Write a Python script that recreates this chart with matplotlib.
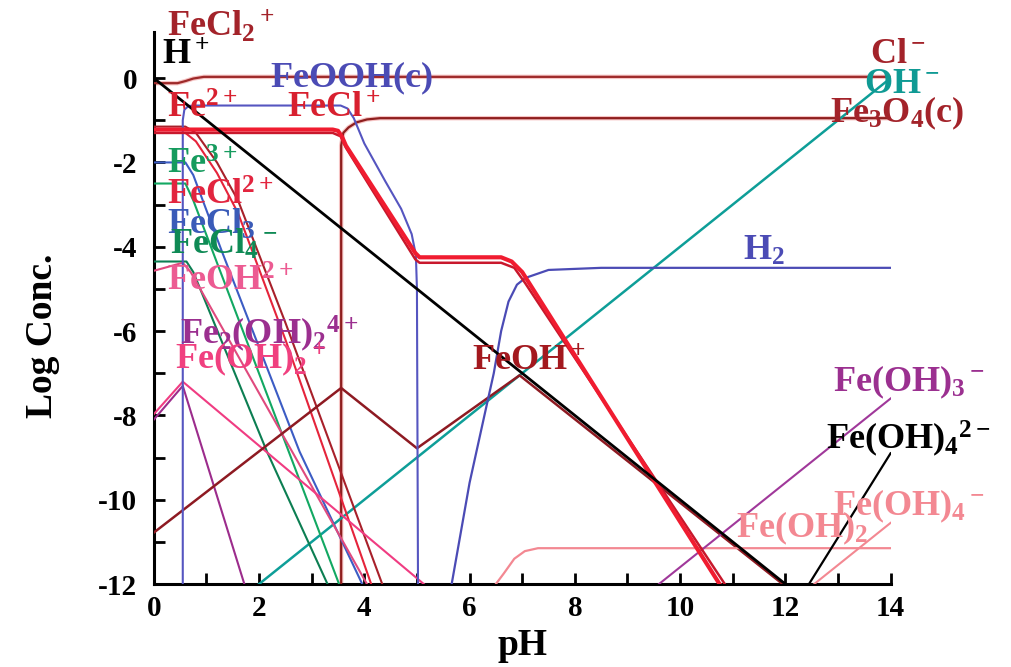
import matplotlib
matplotlib.use("Agg")
import matplotlib.pyplot as plt

plt.rcParams['font.family'] = ['Liberation Serif', 'DejaVu Serif']
plt.rcParams['font.weight'] = 'bold'
plt.rcParams['axes.unicode_minus'] = False
plt.rcParams['mathtext.fontset'] = 'custom'
plt.rcParams['mathtext.rm'] = 'Liberation Serif:bold'
plt.rcParams['mathtext.bf'] = 'Liberation Serif:bold'
plt.rcParams['mathtext.it'] = 'Liberation Serif:bold'
plt.rcParams['mathtext.default'] = 'bf'

# --- species curves (pH, log conc.) ---
h_ph = [0, 12]
h_log = [0, -12]

oh_ph = [2, 14]
oh_log = [-12, 0]

cl_ph = [0, 0.45, 0.6, 0.75, 0.95, 14]
cl_log = [-0.12, -0.12, -0.07, -0.01, 0.03, 0.03]

fe3o4_ph = [3.56, 3.56, 3.6, 3.7, 3.85, 4.05, 4.3, 14]
fe3o4_log = [-12, -1.6, -1.3, -1.17, -1.05, -0.98, -0.95, -0.95]

feooh_ph = [0.55, 0.55, 0.58, 0.66, 0.8, 3.55, 3.68, 3.8, 4.0, 4.4, 4.7, 4.9, 4.98, 5.0, 5.02]
feooh_log = [-12, -1.0, -0.75, -0.66, -0.65, -0.65, -0.72, -0.95, -1.55, -2.45, -3.1, -3.7, -4.2, -5.0, -12]

fe2_ph = [0, 3.4, 3.5, 3.58, 3.65, 4.97, 5.05, 6.6, 6.8, 7.0, 10.75]
fe2_log = [-1.22, -1.22, -1.25, -1.4, -1.6, -4.15, -4.25, -4.25, -4.35, -4.6, -12]

fecl_ph = [0, 3.4, 3.55, 3.65, 4.97, 5.05, 6.6, 6.85, 7.05, 10.85]
fecl_log = [-1.3, -1.3, -1.38, -1.65, -4.3, -4.38, -4.38, -4.5, -4.85, -12]

feoh_ph = [0, 3.56, 5.0, 6.95, 12.0]
feoh_log = [-10.78, -7.35, -8.78, -7.05, -12.05]

fecl2_ph = [0, 0.6, 0.8, 1.2, 1.6, 2.5, 4.34]
fecl2_log = [-1.15, -1.15, -1.3, -2.0, -2.9, -5.8, -12]

fecl_2p_ph = [0, 0.6, 0.8, 1.2, 1.6, 2.5, 4.13]
fecl_2p_log = [-1.3, -1.3, -1.5, -2.25, -3.2, -6.2, -12]

fecl3_ph = [0, 0.6, 0.75, 1.29, 2.77, 3.96]
fecl3_log = [-2.0, -2.0, -2.3, -4.1, -8.86, -12]

fe3_ph = [0, 0.6, 0.75, 3.52]
fe3_log = [-2.5, -2.5, -2.9, -12]

fecl4_ph = [0, 0.62, 0.75, 2.15, 3.3]
fecl4_log = [-4.35, -4.35, -4.6, -8.86, -12]

feoh2p_ph = [0, 0.55, 0.7, 4.05]
feoh2p_log = [-4.57, -4.38, -4.6, -12]

fe_oh2p_ph = [0, 0.55, 5.13]
fe_oh2p_log = [-7.97, -7.2, -12]

fe2oh2_ph = [0, 0.55, 1.72]
fe2oh2_log = [-8.1, -7.3, -12]

h2_ph = [5.66, 6.0, 6.3, 6.46, 6.6, 6.74, 6.9, 7.06, 7.5, 8.5, 14]
h2_log = [-12, -9.6, -7.9, -7.0, -6.0, -5.3, -4.9, -4.74, -4.55, -4.5, -4.5]

feoh2_ph = [6.5, 6.65, 6.85, 7.05, 7.3, 14]
feoh2_log = [-12, -11.75, -11.4, -11.22, -11.15, -11.15]

feoh3_ph = [9.6, 14]
feoh3_log = [-12, -7.6]

feoh4_2_ph = [12.45, 14]
feoh4_2_log = [-12, -8.9]

feoh4_ph = [12.55, 14]
feoh4_log = [-12, -10.55]

# labels
lab_text = [r'$FeCl_2{}^+$', r'$H^+$', r'$FeOOH(c)$', r'$Fe^{2+}$', r'$FeCl^+$',
            r'$Fe^{3+}$', r'$FeCl^{2+}$', r'$FeCl_3$', r'$FeCl_4{}^-$', r'$FeOH^{2+}$',
            r'$Fe_2(OH)_2{}^{4+}$', r'$Fe(OH)_2{}^+$', r'$Cl^-$', r'$OH^-$', r'$Fe_3O_4(c)$',
            r'$H_2$', r'$FeOH^+$', r'$Fe(OH)_3{}^-$', r'$Fe(OH)_4{}^{2-}$', r'$Fe(OH)_4{}^-$',
            r'$Fe(OH)_2$']
lab_x = [0.25, 0.15, 2.2, 0.25, 2.54, 0.25, 0.25, 0.25, 0.3, 0.25,
         0.5, 0.4, 13.6, 13.5, 12.85, 11.2, 6.04, 12.9, 12.77, 12.9, 11.07]
lab_y = [0.98, 0.31, -0.22, -0.93, -0.95, -2.26, -3.0, -3.7, -4.17, -5.05,
         -6.3, -6.9, 0.36, -0.36, -1.05, -4.3, -6.95, -7.43, -8.8, -10.36, -10.9]
lab_col = ['#A3232A', 'black', '#4B4BB5', '#D8202F', '#D8202F',
           '#169B5E', '#E2253F', '#3A5BB8', '#0F8A55', '#EC5B92',
           '#9B2F8F', '#F0407F', '#A3232A', '#0F9A94', '#A3232A',
           '#4B4BB5', '#A3181E', '#9B3090', 'black', '#F38892', '#F38892']

fig = plt.figure(figsize=(10.12, 6.67), dpi=100)
ax = fig.add_axes([0.152, 0.1244, 0.728, 0.828])

def halo(x, y, c, lw, hc, hlw):
    ax.plot(x, y, color=hc, lw=hlw, solid_capstyle='butt', zorder=2)
    ax.plot(x, y, color=c, lw=lw, solid_capstyle='butt', zorder=3)

halo(cl_ph, cl_log, '#9E2A2A', 1.6, '#F6C4C4', 3.2)
halo(fe3o4_ph, fe3o4_log, '#8E1E1E', 1.6, '#F6C4C4', 3.2)
ax.plot(oh_ph, oh_log, color='#0E9E98', lw=1.8, zorder=3)
ax.plot(fecl4_ph, fecl4_log, color='#0C7E52', lw=1.5, zorder=3)
ax.plot(fe3_ph, fe3_log, color='#12A862', lw=1.5, zorder=3)
ax.plot(fecl3_ph, fecl3_log, color='#3C5CC4', lw=1.5, zorder=3)
ax.plot(feoh2p_ph, feoh2p_log, color='#E04A7E', lw=1.5, zorder=3)
ax.plot(fecl_2p_ph, fecl_2p_log, color='#E5243B', lw=1.5, zorder=3)
ax.plot(fecl2_ph, fecl2_log, color='#A8202A', lw=1.5, zorder=3)
ax.plot(fe_oh2p_ph, fe_oh2p_log, color='#F03C82', lw=1.5, zorder=3)
ax.plot(fe2oh2_ph, fe2oh2_log, color='#9C2C8C', lw=1.5, zorder=3)
ax.plot(feoh_ph, feoh_log, color='#8E1A22', lw=1.8, zorder=3)
ax.plot(feooh_ph, feooh_log, color='#5555C0', lw=1.5, zorder=3)
ax.plot(fecl_ph, fecl_log, color='#C8182C', lw=1.8, zorder=4)
ax.plot(fe2_ph, fe2_log, color='#F01C30', lw=3.0, zorder=4)
ax.plot(h2_ph, h2_log, color='#4B4BB5', lw=1.6, zorder=3)
ax.plot(feoh2_ph, feoh2_log, color='#F38892', lw=1.6, zorder=3)
ax.plot(feoh3_ph, feoh3_log, color='#A0389A', lw=1.5, zorder=3)
ax.plot(feoh4_ph, feoh4_log, color='#F38892', lw=1.5, zorder=3)
ax.plot(feoh4_2_ph, feoh4_2_log, color='black', lw=1.6, zorder=3)
ax.plot(h_ph, h_log, color='black', lw=2.0, zorder=5)

for t, x, y, c in zip(lab_text, lab_x, lab_y, lab_col):
    ax.text(x, y, t, color=c, fontsize=26, ha='left', va='baseline',
            clip_on=False, zorder=6)

ax.set_xlim(0, 14)
ax.set_ylim(-12, 1.1)
ax.set_xticks(range(0, 15, 2))
ax.set_xticks(range(0, 15), minor=True)
ax.set_yticks(range(-12, 1, 2))
ax.set_yticks(range(-12, 1), minor=True)
ax.tick_params(which='both', direction='in', length=8, width=2,
               labelsize=21, pad=8)
ax.tick_params(axis='y', which='both', pad=12)
for lbl in ax.get_xticklabels() + ax.get_yticklabels():
    lbl.set_fontweight('bold')
for s in ['top', 'right']:
    ax.spines[s].set_visible(False)
for s in ['left', 'bottom']:
    ax.spines[s].set_linewidth(2.2)

ax.set_xlabel('pH', fontsize=27, fontweight='bold', labelpad=4)
ax.set_ylabel('Log Conc.', fontsize=27, fontweight='bold')
ax.yaxis.set_label_coords(-0.128, 0.45)

fig.savefig('out.png', dpi=100)
